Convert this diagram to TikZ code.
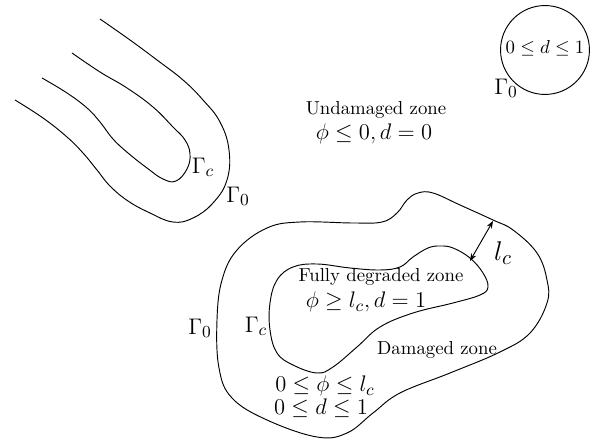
\documentclass[tikz,border=0pt]{standalone}
\usepackage{amsmath, amssymb}
\usetikzlibrary{arrows.meta, positioning, calc}

\begin{document}
\begin{tikzpicture}[
  x=0.532pt, y=-0.532pt,
  bnd/.style  = {line width=0.5pt, black},
  txt/.style  = {font=\normalsize, inner sep=0pt},
  mth/.style  = {font=\fontsize{13}{15}\selectfont, inner sep=0pt},
  big/.style  = {font=\fontsize{15.5}{18}\selectfont, inner sep=0pt},
  arr/.style  = {{Stealth[length=4pt, width=3pt]}-{Stealth[length=4pt, width=3pt]}, line width=0.5pt}
]
\useasboundingbox (0,0) rectangle (602,443);

% crack tip region (top left)
\draw[bnd] plot[smooth, tension=0.7] coordinates {
  (100,19) (130,40) (157,60) (183,80) (203,100) (220,122) (229,150)
  (227,180) (213,203) (193,218) (173,222) (150,213) (128,201) (110,186)
  (97,170) (83,153) (67,137) (43,118) (15,100)};
\draw[bnd] plot[smooth, tension=0.7] coordinates {
  (72,53) (100,72) (127,88) (153,107) (173,127) (185,140) (190,154)
  (187,169) (176,181) (163,179) (147,168) (128,153) (113,139) (100,122)
  (87,108) (67,93) (42,78)};
\node[mth] (gc1) at (203,167) {$\Gamma_c$};
\node[mth] (g01) at (238,196) {$\Gamma_0$};

% small damaged inclusion (top right)
\node[circle, draw, line width=0.5pt, minimum size=47.3pt, inner sep=0pt] (incl) at (545,50) {};
\node[txt] (dincl) at (545,48) {$0\leq d\leq 1$};
\node[mth] (g0incl) at (506,88) {$\Gamma_0$};

% undamaged zone
\node[txt] (undam) at (376,110) {Undamaged zone};
\node[mth] (undameq) at (374,134) {$\phi\leq 0, d=0$};

% main crack: outer boundary
\draw[bnd] plot[smooth cycle, tension=0.65] coordinates {
  (418,193) (407,200) (397,213) (382,222) (353,223) (300,222) (267,228)
  (237,250) (222,280) (217,320) (219,368) (232,398) (267,420) (317,437)
  (347,433) (373,413) (400,393) (450,373) (500,352) (530,333) (547,303)
  (547,280) (537,253) (513,230) (493,220) (460,205) (433,193)};
% main crack: fully degraded zone
\draw[bnd] plot[smooth cycle, tension=0.65] coordinates {
  (428,248) (413,257) (400,267) (380,270) (350,268) (317,264) (293,267)
  (277,280) (270,303) (270,330) (277,353) (293,365) (317,373) (333,367)
  (357,347) (380,327) (413,313) (453,303) (480,295) (488,287) (483,273)
  (470,258) (453,248) (440,246)};

% width of damaged band
\coordinate (lcin)  at (470,261);
\coordinate (lcout) at (493,221);
\draw[arr] (lcin) -- (lcout);
\node[big] (lc) at (503,253) {$l_c$};

\node[txt] (fully) at (381,277) {Fully degraded zone};
\node[mth] (fullyeq) at (366,302) {$\phi\geq l_c, d=1$};
\node[mth] (gc2) at (256,326) {$\Gamma_c$};
\node[mth] (g02) at (200,328) {$\Gamma_0$};
\node[txt] (dam) at (437,350) {Damaged zone};
\node[mth] (dameq1) at (325,386) {$0\leq \phi\leq l_c$};
\node[mth] (dameq2) at (321,408) {$0\leq d\leq 1$};
\end{tikzpicture}
\end{document}
